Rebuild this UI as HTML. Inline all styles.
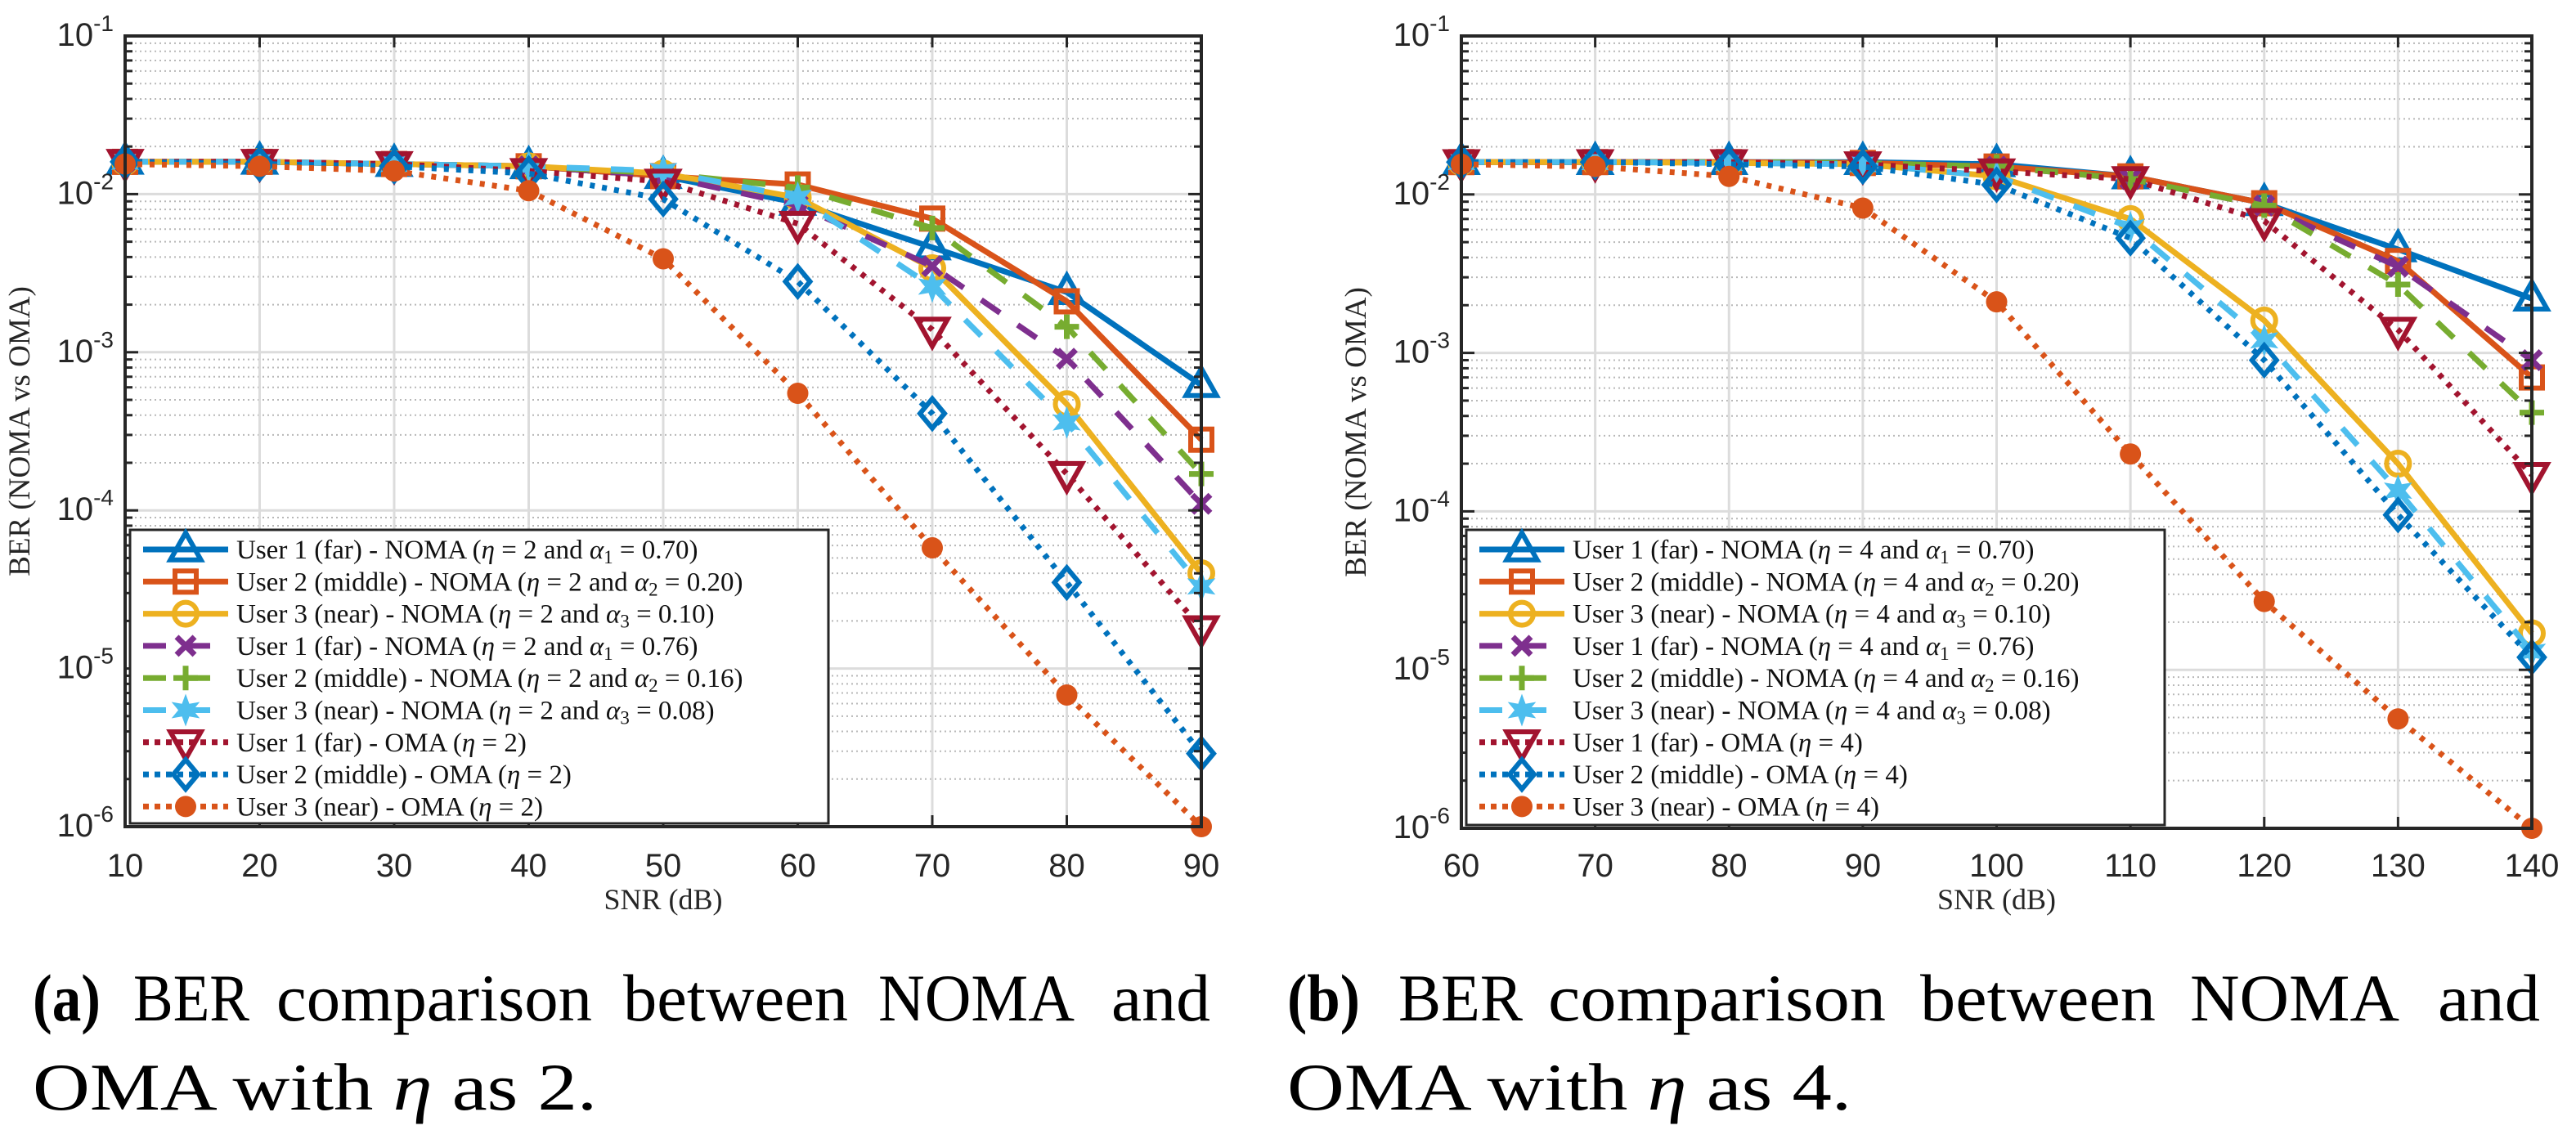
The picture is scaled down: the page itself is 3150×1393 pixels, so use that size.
<!DOCTYPE html>
<html><head><meta charset="utf-8">
<style>
html,body{margin:0;padding:0;background:#fff;}
svg{display:block;}
</style></head>
<body>
<svg id="fig" xmlns="http://www.w3.org/2000/svg" width="3150" height="1393" viewBox="0 0 3150 1393">
<g id="capA" font-family="Liberation Serif, serif" font-size="82" fill="#000">
<text x="40" y="1248" font-weight="bold" textLength="83" lengthAdjust="spacingAndGlyphs">(a)</text>
<text x="163" y="1248" textLength="142" lengthAdjust="spacingAndGlyphs">BER</text>
<text x="338" y="1248" textLength="386" lengthAdjust="spacingAndGlyphs">comparison</text>
<text x="762" y="1248" textLength="275" lengthAdjust="spacingAndGlyphs">between</text>
<text x="1074" y="1248" textLength="240" lengthAdjust="spacingAndGlyphs">NOMA</text>
<text x="1359" y="1248" textLength="121" lengthAdjust="spacingAndGlyphs">and</text>
<text x="40" y="1357" textLength="690" lengthAdjust="spacingAndGlyphs">OMA with <tspan font-style="italic">η</tspan> as 2.</text>
</g>
<g id="capB" font-family="Liberation Serif, serif" font-size="82" fill="#000">
<text x="1574" y="1248" font-weight="bold" textLength="89" lengthAdjust="spacingAndGlyphs">(b)</text>
<text x="1710" y="1248" textLength="152" lengthAdjust="spacingAndGlyphs">BER</text>
<text x="1893" y="1248" textLength="413" lengthAdjust="spacingAndGlyphs">comparison</text>
<text x="2348" y="1248" textLength="288" lengthAdjust="spacingAndGlyphs">between</text>
<text x="2678" y="1248" textLength="256" lengthAdjust="spacingAndGlyphs">NOMA</text>
<text x="2981" y="1248" textLength="125" lengthAdjust="spacingAndGlyphs">and</text>
<text x="1574" y="1357" textLength="690" lengthAdjust="spacingAndGlyphs">OMA with <tspan font-style="italic">η</tspan> as 4.</text>
</g>
</svg>
<script>
// ---- data: panel (a), eta = 2 ----
const snrA = [10,20,30,40,50,60,70,80,90];
const a_u1_noma = [0.016,0.016,0.0155,0.015,0.013,0.0088,0.0046,0.0024,0.00062];
const a_u2_noma = [0.016,0.016,0.0155,0.015,0.013,0.0115,0.0070,0.0021,0.00028];
const a_u3_noma = [0.016,0.016,0.0155,0.015,0.0135,0.0095,0.0034,0.00047,0.00004];
const a_u1_noma2 = [0.016,0.016,0.0155,0.015,0.013,0.0085,0.0035,0.00091,0.00011];
const a_u2_noma2 = [0.016,0.016,0.0155,0.015,0.0135,0.011,0.0061,0.00145,0.00017];
const a_u3_noma2 = [0.016,0.016,0.0155,0.015,0.014,0.0095,0.0026,0.00036,0.000033];
const a_u1_oma = [0.016,0.016,0.0155,0.014,0.012,0.0065,0.00139,0.00017,0.000018];
const a_u2_oma = [0.016,0.0155,0.015,0.0135,0.0093,0.0028,0.00041,0.000035,0.0000029];
const a_u3_oma = [0.0155,0.015,0.014,0.0105,0.0039,0.00055,0.000058,0.0000068,0.000001];
// ---- data: panel (b), eta = 4 ----
const snrB = [60,70,80,90,100,110,120,130,140];
const b_u1_noma = [0.016,0.016,0.016,0.016,0.0155,0.013,0.0088,0.0045,0.0022];
const b_u2_noma = [0.016,0.016,0.016,0.0158,0.015,0.013,0.0088,0.0038,0.0007];
const b_u3_noma = [0.016,0.016,0.0158,0.0155,0.013,0.007,0.0016,0.0002,0.000017];
const b_u1_noma2 = [0.016,0.016,0.016,0.0158,0.015,0.0125,0.0085,0.0035,0.0009];
const b_u2_noma2 = [0.016,0.016,0.016,0.0158,0.015,0.0125,0.0085,0.0027,0.00042];
const b_u3_noma2 = [0.016,0.016,0.0158,0.0155,0.013,0.0062,0.0012,0.000135,0.000013];
const b_u1_oma = [0.016,0.016,0.016,0.0155,0.014,0.0125,0.0068,0.0014,0.00017];
const b_u2_oma = [0.016,0.016,0.0155,0.015,0.0115,0.0053,0.0009,0.000095,0.000012];
const b_u3_oma = [0.0155,0.015,0.013,0.0082,0.0021,0.00023,0.000027,0.0000049,0.000001];
const yTickExps = [-1,-2,-3,-4,-5,-6];

const NS='http://www.w3.org/2000/svg';
const svg=document.getElementById('fig');
function el(tag,attrs,parent){const e=document.createElementNS(NS,tag);for(const k in attrs)e.setAttribute(k,attrs[k]);(parent||svg).appendChild(e);return e;}

const C={blue:'#0072BD',orange:'#D95319',yellow:'#EDB120',purple:'#7E2F8E',green:'#77AC30',cyan:'#4DBEEE',red:'#A2142F'};

function seriesDefs(p,d){
  const e=p==='a'?'2':'4';
  return [
   {vals:d[0],color:C.blue,dash:'',marker:'tri',lbl:['User 1 (far) - NOMA (',e,' and ','1',' = 0.70)']},
   {vals:d[1],color:C.orange,dash:'',marker:'sq',lbl:['User 2 (middle) - NOMA (',e,' and ','2',' = 0.20)']},
   {vals:d[2],color:C.yellow,dash:'',marker:'circ',lbl:['User 3 (near) - NOMA (',e,' and ','3',' = 0.10)']},
   {vals:d[3],color:C.purple,dash:'28 26',marker:'x',lbl:['User 1 (far) - NOMA (',e,' and ','1',' = 0.76)']},
   {vals:d[4],color:C.green,dash:'28 26',marker:'plus',lbl:['User 2 (middle) - NOMA (',e,' and ','2',' = 0.16)']},
   {vals:d[5],color:C.cyan,dash:'28 26',marker:'star',lbl:['User 3 (near) - NOMA (',e,' and ','3',' = 0.08)']},
   {vals:d[6],color:C.red,dash:'6 9',marker:'tridown',lbl:['User 1 (far) - OMA (',e,')']},
   {vals:d[7],color:C.blue,dash:'6 9',marker:'dia',lbl:['User 2 (middle) - OMA (',e,')']},
   {vals:d[8],color:C.orange,dash:'6 9',marker:'dot',lbl:['User 3 (near) - OMA (',e,')']}
  ];
}

function marker(g,type,x,y,color){
  const s=17;
  if(type==='tri') el('polygon',{points:`${x},${y-s*1.2} ${x-s*1.1},${y+s*0.75} ${x+s*1.1},${y+s*0.75}`,fill:'none',stroke:color,'stroke-width':6},g);
  else if(type==='tridown') el('polygon',{points:`${x},${y+s*1.2} ${x-s*1.1},${y-s*0.75} ${x+s*1.1},${y-s*0.75}`,fill:'none',stroke:color,'stroke-width':6},g);
  else if(type==='sq') el('rect',{x:x-13,y:y-13,width:26,height:26,fill:'none',stroke:color,'stroke-width':6},g);
  else if(type==='circ') el('circle',{cx:x,cy:y,r:14,fill:'none',stroke:color,'stroke-width':6},g);
  else if(type==='dot') el('circle',{cx:x,cy:y,r:13,fill:color},g);
  else if(type==='dia') el('polygon',{points:`${x},${y-18} ${x+15},${y} ${x},${y+18} ${x-15},${y}`,fill:'none',stroke:color,'stroke-width':6},g);
  else if(type==='x') el('path',{d:`M${x-11},${y-11}L${x+11},${y+11}M${x+11},${y-11}L${x-11},${y+11}`,stroke:color,'stroke-width':7},g);
  else if(type==='plus') el('path',{d:`M${x-15},${y}L${x+15},${y}M${x},${y-15}L${x},${y+15}`,stroke:color,'stroke-width':7},g);
  else if(type==='star'){let pts=[];for(let i=0;i<12;i++){const r=i%2?9:20;const a=Math.PI/2+i*Math.PI/6;pts.push((x+r*Math.cos(a)).toFixed(1)+','+(y-r*Math.sin(a)).toFixed(1));}el('polygon',{points:pts.join(' '),fill:color},g);}
}

function panel(id,L,R,T,B,xs,data,ylabX){
  const g=el('g',{});
  
  
  const xmin=xs[0],xmax=xs[xs.length-1];
  const X=v=>L+(v-xmin)/(xmax-xmin)*(R-L);
  const Y=v=>T+(-1-Math.log10(v))/5*(B-T);
  const grid=el('g',{},g);
  
  
  for(let d=-6;d<-1;d++){for(let m=2;m<=9;m++){const y=Y(m*Math.pow(10,d));el('line',{x1:L,x2:R,y1:y,y2:y,stroke:'#b8b8b8','stroke-width':2,'stroke-dasharray':'2 4'},grid);}}
  yTickExps.forEach(e=>{const y=Y(Math.pow(10,e));el('line',{x1:L,x2:R,y1:y,y2:y,stroke:'#dcdcdc','stroke-width':3},grid);});
  xs.forEach(v=>{el('line',{x1:X(v),x2:X(v),y1:T,y2:B,stroke:'#dcdcdc','stroke-width':3},grid);});
  const defs=seriesDefs(id,data);
  defs.forEach((s,i)=>{
    const sg=el('g',{},g);
    
    
    const pts=xs.map((x,k)=>X(x).toFixed(1)+','+Y(s.vals[k]).toFixed(1)).join(' ');
    const line=el('polyline',{points:pts,fill:'none',stroke:s.color,'stroke-width':7,'stroke-dasharray':s.dash},sg);
    
    
    xs.forEach((x,k)=>marker(sg,s.marker,X(x),Y(s.vals[k]),s.color));
  });
  const ax=el('g',{},g);
  
  
  el('rect',{x:L,y:T,width:R-L,height:B-T,fill:'none',stroke:'#262626','stroke-width':4},ax);
  xs.forEach(v=>{el('line',{x1:X(v),x2:X(v),y1:B,y2:B-14,stroke:'#262626','stroke-width':3},ax);el('line',{x1:X(v),x2:X(v),y1:T,y2:T+14,stroke:'#262626','stroke-width':3},ax);
    const t=el('text',{x:X(v),y:1072,'text-anchor':'middle','font-family':'Liberation Sans, sans-serif','font-size':40,fill:'#262626'},ax);t.textContent=v;
    
    });
  for(let d=-6;d<-1;d++){for(let m=1;m<=9;m++){const y=Y(m*Math.pow(10,d));const len=m===1?16:9;el('line',{x1:L,x2:L+len,y1:y,y2:y,stroke:'#262626','stroke-width':3},ax);el('line',{x1:R,x2:R-len,y1:y,y2:y,stroke:'#262626','stroke-width':3},ax);}}
  yTickExps.forEach(e=>{const y=Y(Math.pow(10,e));const t=el('text',{x:L-14,y:y+12,'text-anchor':'end','font-family':'Liberation Sans, sans-serif','font-size':40,fill:'#262626'},ax);
    
    
    const a=el('tspan',{},t);a.textContent='10';const b=el('tspan',{dy:-18,'font-size':28},t);b.textContent=String(e);});
  const xl=el('text',{x:(L+R)/2,y:1112,'text-anchor':'middle','font-family':'Liberation Serif, serif','font-size':36,fill:'#262626'},g);xl.textContent='SNR (dB)';
  
  
  const yl=el('text',{x:0,y:0,transform:`translate(${ylabX},${(T+B)/2}) rotate(-90)`,'text-anchor':'middle','font-family':'Liberation Serif, serif','font-size':37,fill:'#262626'},g);yl.textContent='BER (NOMA vs OMA)';
  
  
  const lg=el('g',{},g);
  
  
  const lx=L+6,ly=648,lw=854,rh=39.3;
  el('rect',{x:lx,y:ly,width:lw,height:B-4-ly,fill:'#fff',stroke:'#262626','stroke-width':3},lg);
  defs.forEach((s,i)=>{
    const ey=ly+24+i*rh;
    const en=el('g',{},lg);
    
    
    el('line',{x1:lx+16,x2:lx+120,y1:ey,y2:ey,stroke:s.color,'stroke-width':7,'stroke-dasharray':s.dash?(s.dash==='6 9'?'7 7':'28 26'):''},en);
    marker(en,s.marker,lx+68,ey,s.color);
    const t=el('text',{x:lx+130,y:ey+11,'font-family':'Liberation Serif, serif','font-size':33,fill:'#111'},en);
    const l=s.lbl;
    let p=el('tspan',{},t);p.textContent=l[0];
    p=el('tspan',{'font-style':'italic'},t);p.textContent='η';
    p=el('tspan',{},t);p.textContent=' = '+l[1];
    if(l.length>3){p=el('tspan',{},t);p.textContent=l[2];
      p=el('tspan',{'font-style':'italic'},t);p.textContent='α';
      p=el('tspan',{dy:6,'font-size':23},t);p.textContent=l[3];
      p=el('tspan',{dy:-6},t);p.textContent=l[4];}
    else{p=el('tspan',{},t);p.textContent=l[2];}
  });
}
panel('a',153,1469,44,1011,snrA,[a_u1_noma,a_u2_noma,a_u3_noma,a_u1_noma2,a_u2_noma2,a_u3_noma2,a_u1_oma,a_u2_oma,a_u3_oma],36);
panel('b',1787,3096,44,1013,snrB,[b_u1_noma,b_u2_noma,b_u3_noma,b_u1_noma2,b_u2_noma2,b_u3_noma2,b_u1_oma,b_u2_oma,b_u3_oma],1670);
</script>
</body></html>
